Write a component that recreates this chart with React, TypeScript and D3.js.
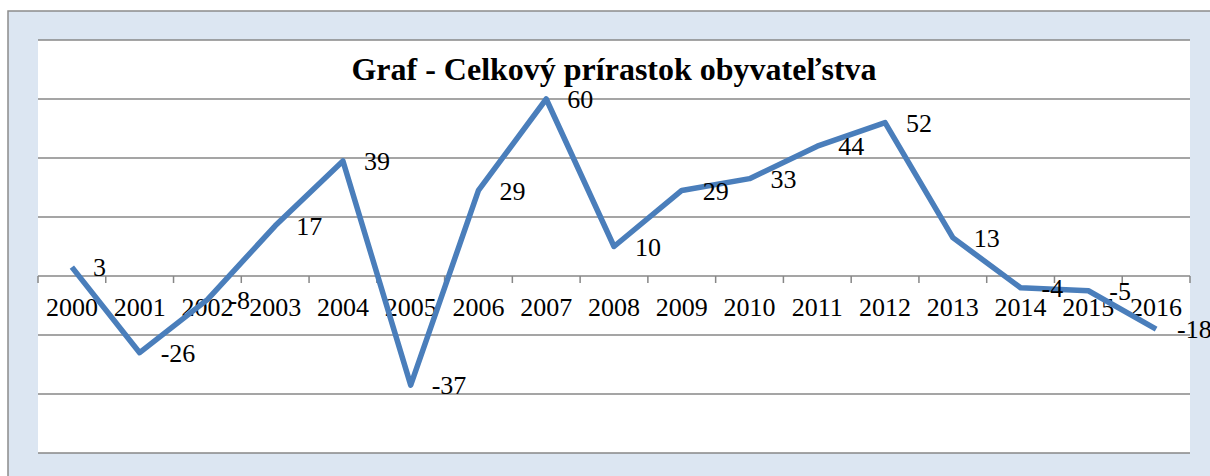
import React from "react";
import * as d3 from "d3";

const years = ["2000","2001","2002","2003","2004","2005","2006","2007","2008","2009","2010","2011","2012","2013","2014","2015","2016"];
const values = [3, -26, -8, 17, 39, -37, 29, 60, 10, 29, 33, 44, 52, 13, -4, -5, -18];
const yTicks = [-60, -40, -20, 0, 20, 40, 60, 80];
const title = "Graf - Celkový prírastok obyvateľstva";

export default function App() {
  const W = 1210, H = 476;
  const left = 38, right = 1190, top = 40, bottom = 453;
  const x = d3.scaleBand<string>().domain(years).range([left, right]).padding(0);
  const y = d3.scaleLinear().domain([-60, 80]).range([bottom, top]);
  const cx = (d: string) => (x(d) as number) + x.bandwidth() / 2;
  const line = d3.line<number>().x((_, i) => cx(years[i])).y((v) => y(v));
  const fontStyle = { fontFamily: '"Times New Roman", "Liberation Serif", Tinos, serif' };
  const boundaries = years.map((d) => x(d) as number).concat([right]);
  return (
    <svg width={W} height={H} style={{ position: "absolute", left: 0, top: 0, background: "#fff" }}>
      <rect x={8} y={11} width={W} height={H} fill="#dce6f2" stroke="#8c8c8c" strokeWidth={1.5} />
      <rect x={left} y={top} width={right - left} height={bottom - top} fill="#fff" />
      {yTicks.map((t) => (
        <line key={t} x1={left} x2={right} y1={y(t)} y2={y(t)} stroke="#878787" strokeWidth={1.5} />
      ))}
      {boundaries.map((b, i) => (
        <line key={i} x1={b} x2={b} y1={y(0)} y2={y(0) + 7} stroke="#878787" strokeWidth={1.5} />
      ))}
      <text x={(left + right) / 2} y={80} textAnchor="middle" style={fontStyle} fontWeight="bold" fontSize={32} fill="#000">{title}</text>
      {years.map((d) => (
        <text key={d} x={cx(d)} y={316} textAnchor="middle" style={fontStyle} fontSize={26} fill="#000">{d}</text>
      ))}
      <path d={line(values) || ""} fill="none" stroke="#4a7ebb" strokeWidth={5.5} strokeLinejoin="round" />
      {values.map((v, i) => (
        <text key={i} x={cx(years[i]) + 21} y={y(v)} dy="0.35em" style={fontStyle} fontSize={26} fill="#000">{v}</text>
      ))}
    </svg>
  );
}
